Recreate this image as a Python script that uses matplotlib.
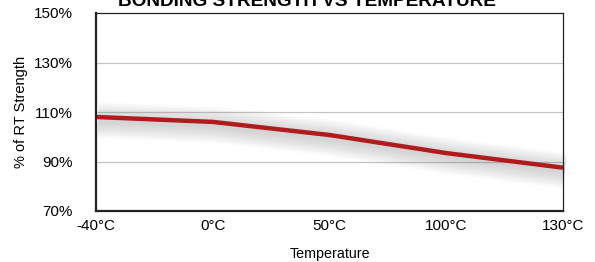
import matplotlib
matplotlib.use("Agg")
import matplotlib.pyplot as plt
import matplotlib.transforms as mtransforms

# data
temp_labels = ["-40°C", "0°C", "50°C", "100°C", "130°C"]
strength = [108.0, 106.0, 100.7, 93.4, 87.5]
y_ticks = [70, 90, 110, 130, 150]

plt.rcParams['font.family'] = ['Liberation Sans', 'DejaVu Sans']

fig = plt.figure(figsize=(5.95, 2.62), dpi=100)
ax = fig.add_axes([96/595, 51/262, 467/595, 198/262])

x = list(range(len(temp_labels)))

# soft drop shadow under the line
for i in range(12):
    off = mtransforms.offset_copy(ax.transData, fig=fig, x=2, y=-3, units='dots')
    ax.plot(x, strength, color='0.4', lw=4 + i * 2.0, alpha=0.025,
            solid_capstyle='butt', transform=off, zorder=2, clip_on=False)

ax.plot(x, strength, color='#b01c1e', lw=3.2, solid_capstyle='butt', zorder=3)

ax.set_xlim(0, len(temp_labels) - 1)
ax.set_ylim(70, 150)
ax.set_xticks(x)
ax.set_xticklabels(temp_labels, fontsize=11)
ax.set_yticks(y_ticks)
ax.set_yticklabels([f"{v}%" for v in y_ticks], fontsize=11)
ax.tick_params(length=0)
ax.tick_params(axis='y', pad=17)
ax.tick_params(axis='x', pad=6)

for v in y_ticks[1:-1]:
    ax.axhline(v, color='#c4c4c4', lw=0.9, zorder=1)

for side in ['left', 'bottom']:
    ax.spines[side].set_linewidth(1.6)
for side in ['top', 'right']:
    ax.spines[side].set_linewidth(0.9)
for s in ax.spines.values():
    s.set_color('#222222')
    s.set_zorder(4)

ax.set_xlabel("Temperature", fontsize=10.3)
ax.xaxis.set_label_coords(0.5, -(247 - 211) / 198)
ax.set_ylabel("% of RT Strength", fontsize=10.5)
ax.yaxis.set_label_coords(-(96 - 28) / 467, 0.5)

fig.text(307/595, 1 - 6.5/262, "BONDING STRENGTH VS TEMPERATURE",
         ha='center', va='baseline', fontsize=13.7, fontweight='bold')

fig.savefig("out.png", dpi=100)
